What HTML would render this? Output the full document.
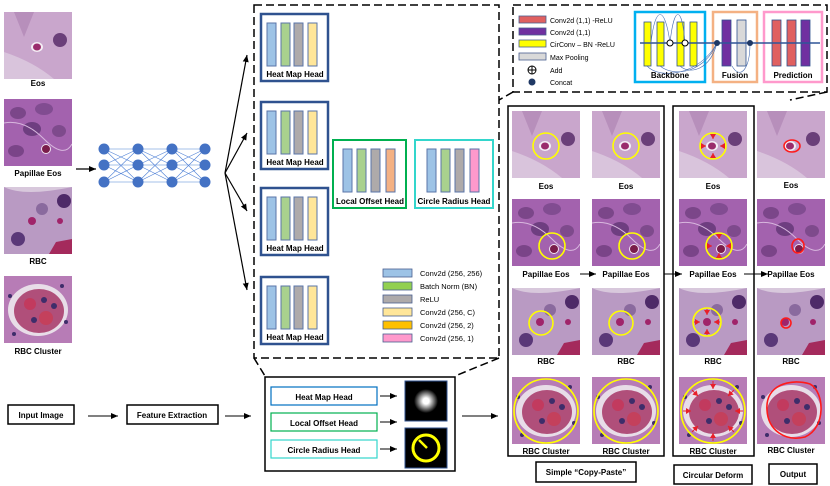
<!DOCTYPE html>
<html><head><meta charset="utf-8"><style>
html,body{margin:0;padding:0;background:#fff}
svg{display:block;font-family:"Liberation Sans",sans-serif}
.b{font-weight:bold;font-size:8px;text-anchor:middle;fill:#000}
.l{font-size:7.5px;fill:#000}
</style></head><body>
<svg width="830" height="486" viewBox="0 0 830 486" xmlns="http://www.w3.org/2000/svg">
<defs>
<marker id="ar" markerWidth="8" markerHeight="8" refX="7" refY="4" orient="auto" markerUnits="userSpaceOnUse"><path d="M0,1 L7,4 L0,7 Z" fill="#000"/></marker>
<marker id="rr" markerWidth="6" markerHeight="6" refX="5" refY="3" orient="auto" markerUnits="userSpaceOnUse"><path d="M0,0 L5,3 L0,6 Z" fill="#e8202a"/></marker>
<symbol id="eos" viewBox="0 0 68 67">
<rect width="68" height="67" fill="#c9a6cc"/><path d="M0,40 Q30,50 50,67 L0,67Z" fill="#d9c4dc"/><path d="M10,0 L20,25 L30,0Z" fill="#b78fbb"/>
<ellipse cx="56" cy="28" rx="7" ry="7" fill="#6a3f79"/><ellipse cx="33" cy="35" rx="6" ry="5" fill="#f4eef5"/><ellipse cx="33" cy="35" rx="4" ry="3.5" fill="#9a2c6c"/></symbol>
<symbol id="pap" viewBox="0 0 68 67">
<rect width="68" height="67" fill="#a362ae"/>
<ellipse cx="14" cy="14" rx="8" ry="6" fill="#7b4689"/><ellipse cx="40" cy="10" rx="9" ry="6" fill="#814c91"/><ellipse cx="28" cy="30" rx="9" ry="7" fill="#6e3e80"/><ellipse cx="55" cy="32" rx="7" ry="6" fill="#7e4a8c"/><ellipse cx="12" cy="52" rx="8" ry="6" fill="#7a4488"/>
<path d="M0,24 Q20,20 40,40 T68,45" stroke="#d8b7de" fill="none"/><ellipse cx="42" cy="50" rx="5" ry="5" fill="#f0e3f0"/><circle cx="42" cy="50" r="4" fill="#7a1c4a"/></symbol>
<symbol id="rbc" viewBox="0 0 68 67">
<rect width="68" height="67" fill="#b99ac3"/><path d="M0,0 Q20,10 68,0Z" fill="#d8c8dc"/>
<ellipse cx="60" cy="14" rx="7" ry="7" fill="#4e2a68"/><ellipse cx="38" cy="22" rx="6" ry="6" fill="#8a6a9e"/><circle cx="28" cy="34" r="4" fill="#a0246a"/><circle cx="56" cy="34" r="3" fill="#a0246a"/><circle cx="14" cy="52" r="7" fill="#5a3878"/><path d="M45,67 L52,55 L68,52 L68,67Z" fill="#a42a5c"/></symbol>
<symbol id="clu" viewBox="0 0 68 67">
<rect width="68" height="67" fill="#b77cb6"/><ellipse cx="34" cy="34" rx="30" ry="26" fill="#e8dde8"/><ellipse cx="35" cy="35" rx="25" ry="22" fill="#b04f7a"/>
<circle cx="26" cy="28" r="6" fill="#c23a5e"/><circle cx="42" cy="42" r="7" fill="#c4405c"/><circle cx="40" cy="24" r="3" fill="#3e2d6a"/><circle cx="30" cy="44" r="3" fill="#3e2d6a"/><circle cx="50" cy="30" r="3" fill="#3e2d6a"/>
<circle cx="6" cy="20" r="2" fill="#3e2d6a"/><circle cx="62" cy="46" r="2" fill="#3e2d6a"/><circle cx="10" cy="58" r="2" fill="#3e2d6a"/><circle cx="58" cy="10" r="2" fill="#3e2d6a"/></symbol>
<g id="hm"><rect x="0" y="0" width="67" height="67" fill="#fff" stroke="#2f528f" stroke-width="2.5"/>
<rect x="6" y="9" width="9" height="43" fill="#9dc3e6" stroke="#5a74a8"/><rect x="20" y="9" width="9" height="43" fill="#a9d18e" stroke="#5a74a8"/><rect x="33" y="9" width="9" height="43" fill="#aeaaaa" stroke="#5a74a8"/><rect x="47" y="9" width="9" height="43" fill="#ffe699" stroke="#5a74a8"/>
<text x="34" y="63" class="b">Heat Map Head</text></g>
</defs>

<!-- left images -->
<use href="#eos" x="4" y="12" width="68" height="67"/><text x="38" y="86" class="b">Eos</text>
<use href="#pap" x="4" y="99" width="68" height="67"/><text x="38" y="176" class="b">Papillae Eos</text>
<use href="#rbc" x="4" y="187" width="68" height="67"/><text x="38" y="264" class="b">RBC</text>
<use href="#clu" x="4" y="276" width="68" height="67"/><text x="38" y="354" class="b">RBC Cluster</text>
<line x1="76" y1="169" x2="96" y2="169" stroke="#000" stroke-width="1.2" marker-end="url(#ar)"/>

<!-- network -->
<g stroke="#4f81d6" stroke-width="0.6">
<path d="M104,149L138,149M104,149L138,165M104,149L138,182M104,165L138,149M104,165L138,165M104,165L138,182M104,182L138,149M104,182L138,165M104,182L138,182"/>
<path d="M138,149L172,149M138,149L172,165M138,149L172,182M138,165L172,149M138,165L172,165M138,165L172,182M138,182L172,149M138,182L172,165M138,182L172,182"/>
<path d="M172,149L205,149M172,149L205,165M172,149L205,182M172,165L205,149M172,165L205,165M172,165L205,182M172,182L205,149M172,182L205,165M172,182L205,182"/>
</g>
<g fill="#4472c4"><circle cx="104" cy="149" r="5.5"/><circle cx="104" cy="165" r="5.5"/><circle cx="104" cy="182" r="5.5"/><circle cx="138" cy="149" r="5.5"/><circle cx="138" cy="165" r="5.5"/><circle cx="138" cy="182" r="5.5"/><circle cx="172" cy="149" r="5.5"/><circle cx="172" cy="165" r="5.5"/><circle cx="172" cy="182" r="5.5"/><circle cx="205" cy="149" r="5.5"/><circle cx="205" cy="165" r="5.5"/><circle cx="205" cy="182" r="5.5"/></g>
<g stroke="#000" stroke-width="1.2" marker-end="url(#ar)"><line x1="225" y1="173" x2="247" y2="55"/><line x1="225" y1="173" x2="247" y2="133"/><line x1="225" y1="173" x2="247" y2="211"/><line x1="225" y1="173" x2="247" y2="290"/></g>

<!-- big dashed box -->
<rect x="254" y="5" width="245" height="353" fill="none" stroke="#000" stroke-width="1.5" stroke-dasharray="8,4"/>
<line x1="254" y1="358" x2="265" y2="376" stroke="#000" stroke-width="1.5" stroke-dasharray="8,4"/>
<line x1="499" y1="358" x2="455" y2="376" stroke="#000" stroke-width="1.5" stroke-dasharray="8,4"/>
<use href="#hm" x="261" y="14"/><use href="#hm" x="261" y="102"/><use href="#hm" x="261" y="188"/><use href="#hm" x="261" y="277"/>
<rect x="333" y="140" width="73" height="68" fill="#fff" stroke="#00b050" stroke-width="2"/>
<rect x="343" y="149" width="9" height="43" fill="#9dc3e6" stroke="#5a74a8"/><rect x="357" y="149" width="9" height="43" fill="#a9d18e" stroke="#5a74a8"/><rect x="371" y="149" width="9" height="43" fill="#aeaaaa" stroke="#5a74a8"/><rect x="386" y="149" width="9" height="43" fill="#f4b183" stroke="#5a74a8"/>
<text x="370" y="204" class="b">Local Offset Head</text>
<rect x="415" y="140" width="78" height="68" fill="#fff" stroke="#33d6cc" stroke-width="2"/>
<rect x="427" y="149" width="9" height="43" fill="#9dc3e6" stroke="#5a74a8"/><rect x="441" y="149" width="9" height="43" fill="#a9d18e" stroke="#5a74a8"/><rect x="455" y="149" width="9" height="43" fill="#aeaaaa" stroke="#5a74a8"/><rect x="470" y="149" width="9" height="43" fill="#ff99cc" stroke="#5a74a8"/>
<text x="454" y="204" class="b">Circle Radius Head</text>
<g stroke="#4a5f8f" stroke-width="0.8">
<rect x="383" y="269" width="29" height="8" fill="#9dc3e6"/><rect x="383" y="282" width="29" height="8" fill="#92d050"/><rect x="383" y="295" width="29" height="8" fill="#aeaaaa"/><rect x="383" y="308" width="29" height="8" fill="#ffe699"/><rect x="383" y="321" width="29" height="8" fill="#ffc000"/><rect x="383" y="334" width="29" height="8" fill="#ff99cc"/></g>
<g class="l"><text x="420" y="276">Conv2d (256, 256)</text><text x="420" y="289">Batch Norm (BN)</text><text x="420" y="302">ReLU</text><text x="420" y="315">Conv2d (256, C)</text><text x="420" y="328">Conv2d (256, 2)</text><text x="420" y="341">Conv2d (256, 1)</text></g>

<!-- bottom row -->
<rect x="8" y="405" width="66" height="19" fill="#fff" stroke="#000" stroke-width="1.5"/><text x="41" y="418" class="b">Input Image</text>
<line x1="88" y1="416" x2="118" y2="416" stroke="#000" marker-end="url(#ar)"/>
<rect x="127" y="405" width="91" height="19" fill="#fff" stroke="#000" stroke-width="1.5"/><text x="172" y="418" class="b">Feature Extraction</text>
<line x1="225" y1="416" x2="251" y2="416" stroke="#000" marker-end="url(#ar)"/>
<rect x="265" y="377" width="190" height="94" fill="#fff" stroke="#000" stroke-width="1.5"/>
<rect x="271" y="387" width="106" height="18" fill="#fff" stroke="#0070c0" stroke-width="1.2"/><text x="324" y="400" class="b">Heat Map Head</text>
<rect x="271" y="413" width="106" height="18" fill="#fff" stroke="#00b050" stroke-width="1.2"/><text x="324" y="426" class="b">Local Offset Head</text>
<rect x="271" y="440" width="106" height="18" fill="#fff" stroke="#33d6cc" stroke-width="1.2"/><text x="324" y="453" class="b">Circle Radius Head</text>
<g stroke="#000" marker-end="url(#ar)"><line x1="380" y1="396" x2="397" y2="396"/><line x1="380" y1="422" x2="397" y2="422"/><line x1="380" y1="449" x2="397" y2="449"/></g>
<defs><radialGradient id="glow"><stop offset="0.25" stop-color="#fff"/><stop offset="1" stop-color="#000"/></radialGradient></defs>
<rect x="405" y="381" width="42" height="40" fill="#000" stroke="#2f528f"/><circle cx="426" cy="401" r="12" fill="url(#glow)"/>
<rect x="405" y="428" width="42" height="40" fill="#000" stroke="#2f528f"/><circle cx="426" cy="448" r="13" fill="none" stroke="#ffff00" stroke-width="3"/><line x1="419" y1="440" x2="427" y2="448" stroke="#ffff00" stroke-width="2.5"/>
<line x1="462" y1="416" x2="498" y2="416" stroke="#000" marker-end="url(#ar)"/>

<!-- top-right dashed box -->
<rect x="513" y="5" width="314" height="87" fill="none" stroke="#000" stroke-width="1.5" stroke-dasharray="8,4"/>
<line x1="513" y1="92" x2="499" y2="100" stroke="#000" stroke-width="1.5" stroke-dasharray="8,4"/>
<line x1="827" y1="92" x2="790" y2="100" stroke="#000" stroke-width="1.5" stroke-dasharray="8,4"/>
<g stroke="#4a5f8f" stroke-width="0.8"><rect x="519" y="16" width="27" height="7" fill="#e06060"/><rect x="519" y="28" width="27" height="7" fill="#7030a0"/><rect x="519" y="40" width="27" height="7" fill="#ffff00"/><rect x="519" y="53" width="27" height="7" fill="#d9d9d9"/></g>
<g class="l" style="font-size:7px"><text x="550" y="23">Conv2d (1,1) -ReLU</text><text x="550" y="35">Conv2d (1,1)</text><text x="550" y="47">CirConv – BN -ReLU</text><text x="550" y="60">Max Pooling</text><text x="550" y="73">Add</text><text x="550" y="85">Concat</text></g>
<circle cx="532" cy="70" r="4" fill="none" stroke="#000"/><path d="M528,70h8M532,66v8" stroke="#000"/>
<circle cx="532" cy="82" r="3.5" fill="#1f3864"/>
<rect x="635" y="12" width="70" height="70" fill="#fff" stroke="#00b0f0" stroke-width="2.5"/>
<rect x="713" y="12" width="44" height="70" fill="#fff" stroke="#f4b183" stroke-width="2.5"/>
<rect x="764" y="12" width="58" height="70" fill="#fff" stroke="#ff99cc" stroke-width="2.5"/>
<g stroke="#2f528f" stroke-width="0.8"><rect x="644" y="22" width="7" height="44" fill="#ffff00"/><rect x="657" y="22" width="7" height="44" fill="#ffff00"/><rect x="677" y="22" width="7" height="44" fill="#ffff00"/><rect x="690" y="22" width="7" height="44" fill="#ffff00"/>
<rect x="722" y="20" width="9" height="46" fill="#7030a0"/><rect x="737" y="20" width="9" height="46" fill="#d9d9d9"/>
<rect x="772" y="20" width="9" height="46" fill="#e06060"/><rect x="787" y="20" width="9" height="46" fill="#e06060"/><rect x="801" y="20" width="9" height="46" fill="#7030a0"/></g>
<line x1="640" y1="43" x2="820" y2="43" stroke="#2f5597" stroke-width="1.5"/>
<g fill="none" stroke="#4a6fb0" stroke-width="0.6"><path d="M651,43 C655,5 665,5 670,43"/><path d="M670,43 C674,5 682,5 685,43"/><path d="M647,66 C660,80 700,75 717,43"/><path d="M660,66 C675,78 705,72 717,43"/><path d="M680,66 C690,75 710,70 717,43"/><path d="M732,66 C740,80 750,70 750,43"/></g>
<circle cx="670" cy="43" r="3" fill="#fff" stroke="#000"/><circle cx="685" cy="43" r="3" fill="#fff" stroke="#000"/><circle cx="717" cy="43" r="3" fill="#1f3864"/><circle cx="750" cy="43" r="3" fill="#1f3864"/>
<text x="670" y="78" class="b">Backbone</text><text x="735" y="78" class="b">Fusion</text><text x="793" y="78" class="b">Prediction</text>

<!-- right panels -->
<rect x="508" y="106" width="156" height="350" fill="none" stroke="#000" stroke-width="1.5"/>
<rect x="673" y="106" width="81" height="350" fill="none" stroke="#000" stroke-width="1.5"/>
<g>
<use href="#eos" x="512" y="111" width="68" height="67"/><use href="#eos" x="592" y="111" width="68" height="67"/><use href="#eos" x="679" y="111" width="68" height="67"/><use href="#eos" x="757" y="111" width="68" height="67"/>
<use href="#pap" x="512" y="199" width="68" height="67"/><use href="#pap" x="592" y="199" width="68" height="67"/><use href="#pap" x="679" y="199" width="68" height="67"/><use href="#pap" x="757" y="199" width="68" height="67"/>
<use href="#rbc" x="512" y="288" width="68" height="67"/><use href="#rbc" x="592" y="288" width="68" height="67"/><use href="#rbc" x="679" y="288" width="68" height="67"/><use href="#rbc" x="757" y="288" width="68" height="67"/>
<use href="#clu" x="512" y="377" width="68" height="67"/><use href="#clu" x="592" y="377" width="68" height="67"/><use href="#clu" x="679" y="377" width="68" height="67"/><use href="#clu" x="757" y="377" width="68" height="67"/>
</g>
<g fill="none" stroke="#ffff00" stroke-width="1.6">
<circle cx="546" cy="146" r="13"/><circle cx="626" cy="146" r="13"/><circle cx="713" cy="146" r="13"/>
<circle cx="552" cy="246" r="13"/><circle cx="632" cy="246" r="13"/><circle cx="719" cy="246" r="13"/>
<circle cx="541" cy="323" r="12"/><circle cx="621" cy="323" r="12"/><circle cx="707" cy="322" r="14"/>
<circle cx="546" cy="411" r="32"/><circle cx="626" cy="411" r="32"/><circle cx="713" cy="411" r="32"/>
</g>
<g stroke="#e8202a" stroke-width="1" marker-end="url(#rr)">
<line x1="713" y1="134" x2="713" y2="139"/><line x1="713" y1="158" x2="713" y2="153"/><line x1="701" y1="146" x2="706" y2="146"/><line x1="725" y1="146" x2="720" y2="146"/>
<line x1="719" y1="234" x2="719" y2="239"/><line x1="719" y1="258" x2="719" y2="253"/><line x1="707" y1="246" x2="712" y2="246"/><line x1="731" y1="246" x2="726" y2="246"/>
<line x1="707" y1="309" x2="707" y2="315"/><line x1="707" y1="335" x2="707" y2="329"/><line x1="694" y1="322" x2="700" y2="322"/><line x1="720" y1="322" x2="714" y2="322"/>
<line x1="713" y1="381" x2="713" y2="389"/><line x1="713" y1="441" x2="713" y2="433"/><line x1="683" y1="411" x2="691" y2="411"/><line x1="743" y1="411" x2="735" y2="411"/>
<line x1="692" y1="390" x2="698" y2="396"/><line x1="734" y1="390" x2="728" y2="396"/><line x1="692" y1="432" x2="698" y2="426"/><line x1="734" y1="432" x2="728" y2="426"/>
</g>
<g fill="none" stroke="#ff1a1a" stroke-width="1.6">
<ellipse cx="792" cy="146" rx="8" ry="6"/><ellipse cx="798" cy="246" rx="6" ry="7"/><circle cx="786" cy="323" r="5"/>
<path d="M767,410 C765,385 790,378 810,384 C825,392 826,428 805,437 C785,442 768,430 767,410Z"/></g>
<g class="b">
<text x="546" y="189">Eos</text><text x="626" y="189">Eos</text><text x="713" y="189">Eos</text><text x="791" y="188">Eos</text>
<text x="546" y="277">Papillae Eos</text><text x="626" y="277">Papillae Eos</text><text x="713" y="277">Papillae Eos</text><text x="791" y="277">Papillae Eos</text>
<text x="546" y="364">RBC</text><text x="626" y="364">RBC</text><text x="713" y="364">RBC</text><text x="791" y="364">RBC</text>
<text x="546" y="454">RBC Cluster</text><text x="626" y="454">RBC Cluster</text><text x="713" y="454">RBC Cluster</text><text x="791" y="453">RBC Cluster</text>
</g>
<g stroke="#000" marker-end="url(#ar)"><line x1="580" y1="274" x2="596" y2="274"/><line x1="664" y1="274" x2="682" y2="274"/><line x1="744" y1="274" x2="768" y2="274"/></g>
<rect x="536" y="462" width="100" height="20" fill="#fff" stroke="#000" stroke-width="1.5"/><text x="586" y="475" class="b">Simple “Copy-Paste”</text>
<rect x="674" y="465" width="78" height="19" fill="#fff" stroke="#000" stroke-width="1.5"/><text x="713" y="478" class="b">Circular Deform</text>
<rect x="769" y="464" width="48" height="20" fill="#fff" stroke="#000" stroke-width="1.5"/><text x="793" y="477" class="b">Output</text>
</svg>
</body></html>
